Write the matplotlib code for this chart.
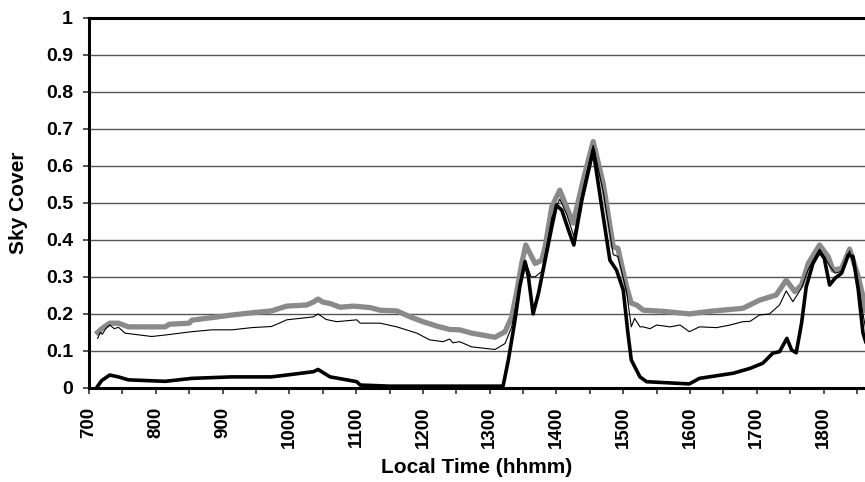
import matplotlib
matplotlib.use("Agg")
import matplotlib.pyplot as plt
from matplotlib.ticker import FixedLocator, FuncFormatter

# ---- data (time in decimal hours, value = sky cover fraction) ----
gray_t = [7.13, 7.19, 7.31, 7.44, 7.59, 8.14, 8.20, 8.50, 8.54, 8.84, 9.14, 9.44, 9.73,
          9.96, 10.26, 10.36, 10.43, 10.50, 10.61, 10.76, 10.96, 11.21, 11.36, 11.61,
          11.81, 12.00, 12.21, 12.40, 12.55, 12.73, 13.08, 13.23, 13.33, 13.40, 13.48,
          13.54, 13.68, 13.78, 13.83, 13.93, 14.05, 14.15, 14.25, 14.40, 14.55, 14.70,
          14.85, 14.92, 15.05, 15.12, 15.20, 15.30, 15.60, 15.99, 16.30, 16.79, 17.04,
          17.29, 17.44, 17.57, 17.67, 17.77, 17.94, 18.07, 18.14, 18.27, 18.39, 18.52,
          18.59, 18.63]
gray_v = [0.150, 0.160, 0.175, 0.175, 0.165, 0.165, 0.172, 0.175, 0.183, 0.190, 0.197,
          0.203, 0.208, 0.221, 0.224, 0.232, 0.240, 0.232, 0.228, 0.218, 0.221, 0.217,
          0.210, 0.208, 0.192, 0.179, 0.167, 0.158, 0.157, 0.148, 0.137, 0.152, 0.192,
          0.255, 0.336, 0.386, 0.336, 0.345, 0.381, 0.489, 0.534, 0.489, 0.445, 0.561,
          0.665, 0.552, 0.381, 0.377, 0.273, 0.229, 0.224, 0.210, 0.207, 0.200, 0.207,
          0.215, 0.237, 0.251, 0.291, 0.260, 0.278, 0.336, 0.386, 0.354, 0.318, 0.323,
          0.375, 0.300, 0.246, 0.210]

thin_t = [7.13, 7.17, 7.20, 7.25, 7.31, 7.38, 7.44, 7.54, 7.94, 8.14, 8.54, 8.84, 9.14,
          9.44, 9.73, 9.85, 9.96, 10.36, 10.43, 10.55, 10.71, 11.01, 11.06, 11.36, 11.61,
          11.91, 12.10, 12.30, 12.40, 12.45, 12.55, 12.73, 13.08, 13.23, 13.33, 13.40,
          13.48, 13.53, 13.62, 13.68, 13.78, 13.83, 13.93, 14.05, 14.15, 14.26, 14.40,
          14.55, 14.70, 14.85, 14.92, 15.05, 15.12, 15.17, 15.25, 15.30, 15.40, 15.50,
          15.70, 15.85, 15.99, 16.14, 16.40, 16.60, 16.79, 16.90, 17.04, 17.19, 17.34,
          17.44, 17.54, 17.67, 17.77, 17.94, 18.09, 18.17, 18.27, 18.39, 18.52, 18.59,
          18.63]
thin_v = [0.134, 0.150, 0.145, 0.160, 0.170, 0.160, 0.164, 0.148, 0.139, 0.143, 0.152,
          0.157, 0.157, 0.163, 0.166, 0.175, 0.184, 0.192, 0.200, 0.185, 0.179, 0.184,
          0.175, 0.175, 0.165, 0.148, 0.130, 0.125, 0.132, 0.122, 0.125, 0.111, 0.104,
          0.120, 0.165, 0.230, 0.300, 0.345, 0.300, 0.300, 0.315, 0.360, 0.460, 0.510,
          0.470, 0.410, 0.540, 0.655, 0.530, 0.360, 0.355, 0.260, 0.165, 0.188, 0.165,
          0.165, 0.160, 0.170, 0.165, 0.170, 0.152, 0.165, 0.163, 0.170, 0.179, 0.180,
          0.197, 0.200, 0.224, 0.262, 0.233, 0.270, 0.320, 0.375, 0.330, 0.310, 0.315,
          0.370, 0.280, 0.200, 0.160]

black_t = [7.13, 7.19, 7.31, 7.44, 7.59, 8.14, 8.54, 9.14, 9.73, 9.96, 10.36, 10.43,
           10.61, 10.86, 11.01, 11.06, 11.50, 12.50, 13.20, 13.28, 13.38, 13.45, 13.53,
           13.58, 13.65, 13.73, 13.83, 13.93, 14.00, 14.08, 14.18, 14.26, 14.38, 14.55,
           14.67, 14.80, 14.90, 15.00, 15.07, 15.12, 15.17, 15.25, 15.35, 15.99, 16.14,
           16.65, 16.90, 17.09, 17.24, 17.34, 17.45, 17.52, 17.59, 17.67, 17.74, 17.84,
           17.94, 18.01, 18.09, 18.17, 18.27, 18.37, 18.44, 18.52, 18.59, 18.63]
black_v = [0.005, 0.020, 0.035, 0.030, 0.022, 0.018, 0.026, 0.030, 0.030, 0.035, 0.044,
           0.050, 0.030, 0.022, 0.017, 0.008, 0.005, 0.005, 0.005, 0.076, 0.184, 0.273,
           0.341, 0.300, 0.200, 0.255, 0.345, 0.435, 0.494, 0.480, 0.426, 0.386, 0.507,
           0.642, 0.498, 0.345, 0.318, 0.264, 0.148, 0.076, 0.058, 0.030, 0.017, 0.011,
           0.026, 0.040, 0.053, 0.067, 0.094, 0.098, 0.134, 0.103, 0.095, 0.175, 0.273,
           0.336, 0.368, 0.350, 0.278, 0.296, 0.310, 0.359, 0.355, 0.264, 0.148, 0.125]

hour_ticks = [7, 8, 9, 10, 11, 12, 13, 14, 15, 16, 17, 18]
hour_labels = ["700", "800", "900", "1000", "1100", "1200", "1300", "1400",
               "1500", "1600", "1700", "1800"]
y_ticks = [0, 0.1, 0.2, 0.3, 0.4, 0.5, 0.6, 0.7, 0.8, 0.9, 1.0]

# ---- figure ----
plt.rcParams['font.family'] = ['Liberation Sans', 'DejaVu Sans']
fig = plt.figure(figsize=(8.65, 4.82), dpi=100)
ax_w = 1 - 89 / 865
ax = fig.add_axes([89 / 865, 1 - 388 / 482, ax_w, (388 - 17.5) / 482])

ax.plot(gray_t, gray_v, color="#8a8a8a", lw=3.8, solid_joinstyle="round", zorder=3)
ax.plot(thin_t, thin_v, color="black", lw=0.8, zorder=4)
ax.plot(black_t, black_v, color="black", lw=2.6, solid_joinstyle="round", zorder=5)

ax.set_xlim(7.0, 18.62)
ax.set_ylim(0, 1)

ax.xaxis.set_major_locator(FixedLocator(hour_ticks))
ax.set_xticklabels(hour_labels, rotation=90, fontsize=13.5, fontweight="bold")
ax.xaxis.set_minor_locator(FixedLocator([h + 0.5 for h in hour_ticks]))
ax.set_yticks(y_ticks)
ax.yaxis.set_major_formatter(FuncFormatter(lambda v, p: "%g" % round(v, 1)))
for lab in ax.get_yticklabels():
    lab.set_fontsize(14)
    lab.set_fontweight("bold")

ax.tick_params(axis="both", which="both", direction="out", length=4.5, width=1.2,
               color="#333333")
ax.tick_params(axis="x", which="major", pad=9)
ax.tick_params(axis="y", which="major", pad=7)
ax.grid(axis="y", color="#555555", lw=1.0, zorder=1)

for s in ["left", "bottom", "top"]:
    ax.spines[s].set_linewidth(2.2)
    ax.spines[s].set_color("black")
ax.spines["right"].set_visible(False)

ax.set_ylabel("Sky Cover", fontsize=15, fontweight="bold")
ax.set_xlabel("Local Time (hhmm)", fontsize=15, fontweight="bold")
ax.yaxis.set_label_coords((28 - 89) / 776, 0.5)
ax.xaxis.set_label_coords(0.5, -(458 - 388) / 370.5)

fig.savefig("out.png", dpi=100)
